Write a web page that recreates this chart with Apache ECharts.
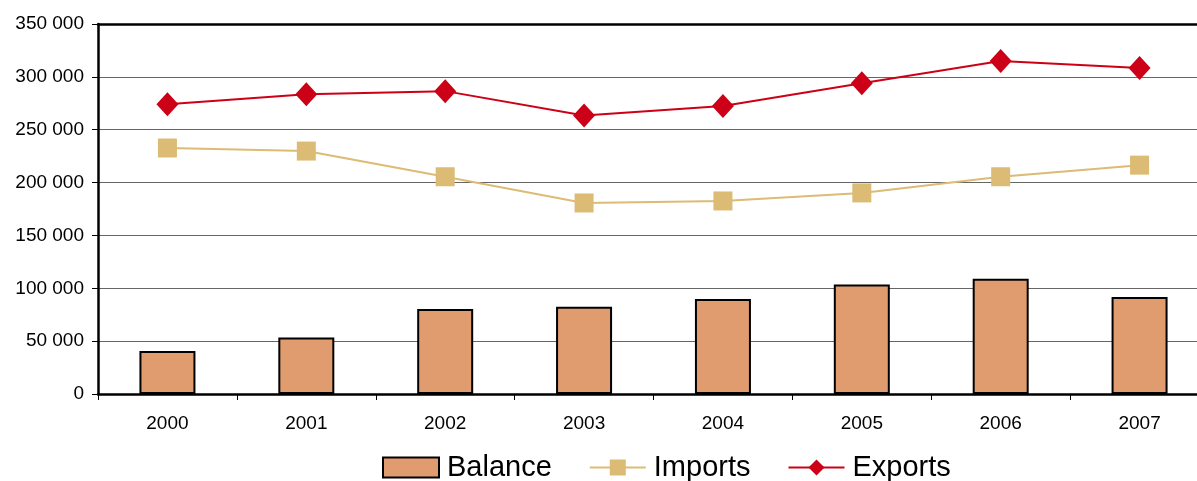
<!DOCTYPE html>
<html>
<head>
<meta charset="utf-8">
<script src="https://cdn.jsdelivr.net/npm/echarts@6/dist/echarts.min.js"></script>
<style>html,body{margin:0;padding:0;background:#fff}#c{width:1197px;height:481px}</style>
</head>
<body>
<div id="c"></div>
<script>
const categories = ['2000','2001','2002','2003','2004','2005','2006','2007'];
const balance = [40700, 53500, 80500, 82500, 89800, 103500, 109000, 91800];
const imports = [232700, 229800, 205500, 180700, 182600, 190200, 205500, 216500];
const exports = [274000, 283500, 286500, 263500, 272400, 294000, 315000, 308400];
const yTicks = [0, 50000, 100000, 150000, 200000, 250000, 300000, 350000];

const chart = echarts.init(document.getElementById('c'));
const fmt = v => v === 0 ? '0' : String(v).replace(/\B(?=(\d{3})+(?!\d))/g, ' ');
const ff = 'Liberation Sans, Arial, sans-serif';
chart.setOption({
  animation: false,
  textStyle: {fontFamily: ff},
  grid: {left: 98, top: 24, height: 370, width: 1111, outerBoundsMode: 'none', containLabel: false},
  legend: {
    top: 448, left: 377, itemWidth: 56, itemHeight: 20, itemGap: 37,
    textStyle: {fontSize: 29, color: '#000', fontFamily: ff, padding: [0, 0, 0, 3]},
    data: [{name: 'Balance', icon: 'rect'}, 'Imports', 'Exports']
  },
  xAxis: [{
    type: 'category', data: categories,
    axisLine: {lineStyle: {color: '#000', width: 2.5}},
    axisTick: {show: true, length: 6, lineStyle: {color: '#000', width: 1}},
    axisLabel: {fontSize: 19, color: '#000', margin: 20}
  }, {
    type: 'category', data: categories, position: 'top',
    axisLine: {lineStyle: {color: '#000', width: 2.5}},
    axisTick: {show: false}, axisLabel: {show: false}
  }],
  yAxis: {
    type: 'value', min: 0, max: 350000, interval: 50000,
    axisLine: {show: true, lineStyle: {color: '#000', width: 2.5}},
    axisTick: {show: true, length: 6, lineStyle: {color: '#000', width: 1}},
    axisLabel: {fontSize: 19, color: '#000', margin: 14, formatter: fmt},
    splitLine: {lineStyle: {color: '#666', width: 1}}
  },
  series: [{
    name: 'Balance', type: 'bar', data: balance, barWidth: 56,
    itemStyle: {color: '#E09C6E', borderColor: '#000', borderWidth: 2}
  }, {
    name: 'Imports', type: 'line', data: imports, symbol: 'rect', symbolSize: 19,
    lineStyle: {color: '#DCBB74', width: 2}, itemStyle: {color: '#DCBB74'}
  }, {
    name: 'Exports', type: 'line', data: exports, symbol: 'diamond', symbolSize: [22, 24],
    lineStyle: {color: '#CC0016', width: 2}, itemStyle: {color: '#CC0016'}
  }]
});
</script>
</body>
</html>
